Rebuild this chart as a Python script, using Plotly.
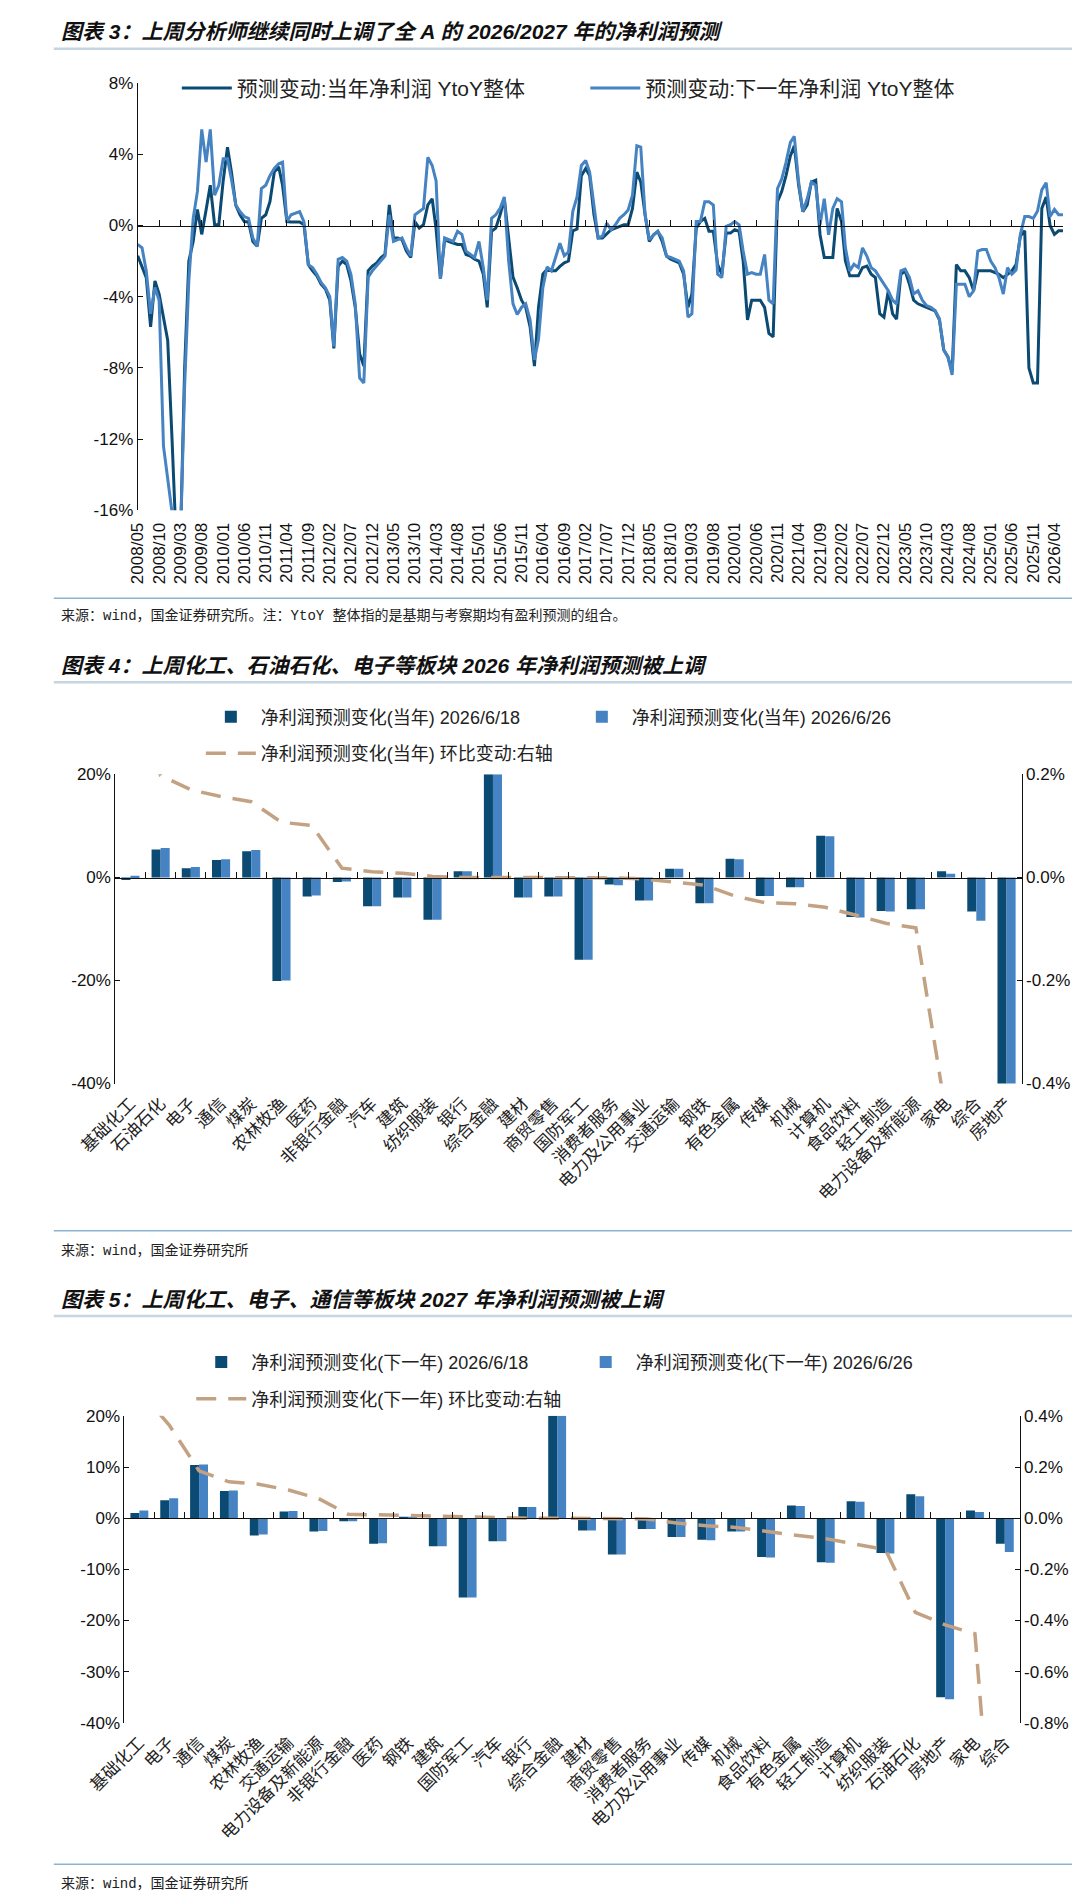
import pandas as pd
import plotly.graph_objects as go

W, H = 1080, 1900

# 图表3: 预测变动 YtoY整体(%), 月度 2008/05 - 2026/06
months = pd.date_range("2008-05-01", "2026-06-01", freq="MS")

cur_year = [
    -1.7, -2.37, -2.93, -5.7, -3.11, -3.85, -5.15, -6.44, -12.0, -18.0,
    -18.0, -8.0, -2.0, -0.9, 0.9, -0.5, 0.87, 2.26, 0.04, 0.04,
    2.5, 4.4, 3.0, 1.15, 0.6, 0.22, 0.2, -0.9, -1.17, 0.4,
    0.6, 1.33, 3.0, 3.3, 2.26, 0.22, 0.2, 0.2, 0.2, 0.04,
    -2.2, -2.55, -2.83, -3.3, -3.57, -4.2, -6.9, -2.3, -2.0, -2.2,
    -3.1, -4.6, -7.2, -7.9, -2.55, -2.28, -2.1, -1.8, -1.63, 1.15,
    -0.7, -0.7, -0.8, -1.44, -1.8, 0.2, -0.15, 0.04, 1.15, 1.5,
    -0.2, -3.0, -0.8, -0.9, -1.0, -1.07, -1.07, -1.63, -1.72, -1.9,
    -2.0, -2.74, -4.6, -0.33, -0.15, 0.6, 1.5, -0.9, -2.9, -3.5,
    -4.2, -4.6, -5.7, -7.9, -4.6, -2.74, -2.46, -2.55, -2.55, -2.3,
    -2.1, -2.0, -0.3, -0.2, 2.8, 3.2, 2.8, 0.6, -0.7, -0.7,
    -0.5, -0.24, -0.15, -0.05, 0.04, 0.04, 0.96, 3.0, 2.44, 0.6,
    -0.9, -0.52, -0.33, -0.9, -1.72, -1.9, -2.0, -2.1, -2.74, -4.6,
    -3.85, -0.15, 0.22, 0.4, -0.33, -0.33, -2.2, -2.74, -0.43, -0.43,
    -0.24, -0.33, -2.0, -5.3, -4.2, -4.2, -4.2, -4.6, -6.07, -6.26,
    1.33, 1.9, 2.8, 3.9, 4.48, 2.26, 0.78, 1.15, 2.44, 2.54,
    -0.52, -1.8, -1.8, -1.8, 0.96, 0.22, -2.0, -2.83, -2.83, -2.83,
    -2.37, -2.28, -2.74, -2.93, -4.96, -5.15, -3.67, -4.96, -5.26, -2.74,
    -2.55, -3.3, -4.2, -4.4, -4.5, -4.6, -4.7, -4.8, -5.3, -7.0,
    -7.37, -8.2, -2.2, -2.55, -2.55, -2.93, -3.67, -2.55, -2.55, -2.55,
    -2.55, -2.65, -2.74, -2.93, -2.74, -2.55, -2.2, -0.6, -0.3, -8.0,
    -8.85, -8.85, 0.96, 1.6, 0.0, -0.5, -0.3, -0.3,
]

next_year = [
    -1.07, -1.26, -2.55, -4.96, -3.48, -4.22, -12.4, -14.4, -16.2, -18.0,
    -18.0, -9.0, -3.1, 0.4, 1.9, 5.4, 3.56, 5.4, 1.7, 2.26,
    3.74, 3.74, 2.6, 1.15, 0.78, 0.5, 0.4, -0.7, -1.17, 2.07,
    2.26, 2.8, 3.2, 3.46, 3.55, 0.22, 0.6, 0.7, 0.78, 0.2,
    -2.2, -2.37, -2.74, -3.2, -3.5, -4.0, -6.8, -1.9, -1.8, -2.0,
    -2.74, -4.4, -8.57, -8.85, -2.9, -2.55, -2.28, -2.0, -1.72, 0.6,
    -0.9, -0.8, -0.7, -1.26, -1.72, 0.6, 0.78, 0.96, 3.83, 3.37,
    2.5, -3.0, -0.7, -0.8, -0.9, -0.33, -0.5, -1.44, -1.63, -1.8,
    -0.9, -2.37, -4.2, 0.4, 0.6, 0.96, 1.6, -2.0, -4.4, -5.0,
    -4.6, -4.4, -5.3, -7.55, -6.4, -3.5, -2.33, -2.55, -1.8, -1.0,
    -1.7, -1.5, 0.8, 1.6, 3.37, 3.65, 3.0, 1.15, -0.7, -0.6,
    0.13, -0.24, 0.04, 0.4, 0.6, 0.87, 1.7, 4.48, 4.4, 0.6,
    -0.8, -0.52, -0.33, -0.7, -1.72, -1.8, -1.9, -2.0, -2.55, -5.15,
    -4.96, 0.22, 0.22, 1.33, 1.33, 1.15, -2.74, -2.93, -0.05, 0.04,
    0.22, 0.04, -1.44, -2.74, -2.65, -2.74, -2.74, -1.63, -4.2, -4.4,
    2.07, 2.6, 3.55, 4.67, 5.0, 2.44, 0.78, 1.5, 2.44, 2.26,
    0.04, 1.5, -0.52, 0.96, 1.5, 1.33, -1.26, -2.55, -2.18, -2.37,
    -1.26, -1.72, -2.37, -2.55, -2.93, -3.3, -3.67, -4.2, -4.4, -2.55,
    -2.46, -2.93, -3.85, -3.67, -4.2, -4.5, -4.6, -4.78, -5.24, -7.0,
    -7.37, -8.4, -3.3, -3.3, -3.3, -4.0, -3.67, -1.44, -1.35, -1.35,
    -2.0, -2.37, -2.93, -3.85, -2.37, -2.74, -2.5, -0.5, 0.5, 0.5,
    0.4, 0.8, 2.0, 2.4, 0.5, 0.9, 0.6, 0.6,
]

# 图表4: 当年净利润预测变化(%) 与 环比变动(%)
sectors_2026 = [
    "基础化工", "石油石化", "电子", "通信", "煤炭", "农林牧渔", "医药", "非银行金融",
    "汽车", "建筑", "纺织服装", "银行", "综合金融", "建材", "商贸零售", "国防军工",
    "消费者服务", "电力及公用事业", "交通运输", "钢铁", "有色金属", "传媒", "机械",
    "计算机", "食品饮料", "轻工制造", "电力设备及新能源", "家电", "综合", "房地产",
]
chg_2026_0618 = [
    -0.5, 5.4, 1.8, 3.4, 5.1, -20.1, -3.7, -0.9, -5.6, -3.9, -8.2, 1.2, 20.0, -3.9, -3.7,
    -16.0, -1.4, -4.5, 1.7, -5.0, 3.6, -3.6, -1.9, 8.1, -7.7, -6.5, -6.2, 1.2, -6.6, -40.3,
]
chg_2026_0626 = [
    0.3, 5.7, 2.0, 3.5, 5.3, -20.0, -3.5, -0.8, -5.6, -3.9, -8.2, 1.2, 20.0, -3.9, -3.7,
    -16.0, -1.5, -4.5, 1.7, -5.0, 3.5, -3.6, -1.9, 8.0, -7.8, -6.6, -6.2, 0.7, -8.4, -40.3,
]
mom_2026 = [
    0.35, 0.198, 0.170, 0.157, 0.147, 0.107, 0.101, 0.018, 0.011, 0.008, 0.002, 0.0, 0.0,
    0.0, 0.0, 0.0, -0.001, -0.003, -0.009, -0.015, -0.036, -0.049, -0.051, -0.058, -0.073,
    -0.089, -0.098, -0.46, -0.6, -0.9,
]

# 图表5: 下一年净利润预测变化(%) 与 环比变动(%)
sectors_2027 = [
    "基础化工", "电子", "通信", "煤炭", "农林牧渔", "交通运输", "电力设备及新能源",
    "非银行金融", "医药", "钢铁", "建筑", "国防军工", "汽车", "银行", "综合金融", "建材",
    "商贸零售", "消费者服务", "电力及公用事业", "传媒", "机械", "食品饮料", "有色金属",
    "轻工制造", "计算机", "纺织服装", "石油石化", "房地产", "家电", "综合",
]
chg_2027_0618 = [
    1.0, 3.5, 10.4, 5.3, -3.4, 1.3, -2.6, -0.6, -5.0, 0.3, -5.5, -15.5, -4.5, 2.2, 20.0,
    -2.4, -7.1, -2.1, -3.7, -4.2, -2.6, -7.6, 2.5, -8.6, 3.3, -6.8, 4.7, -35.0, 1.5, -5.0,
]
chg_2027_0626 = [
    1.5, 3.9, 10.5, 5.4, -3.2, 1.4, -2.5, -0.6, -4.9, 0.3, -5.5, -15.5, -4.5, 2.2, 20.0,
    -2.4, -7.1, -2.1, -3.7, -4.3, -2.6, -7.7, 2.4, -8.7, 3.2, -6.9, 4.3, -35.4, 1.2, -6.6,
]
mom_2027 = [
    0.5, 0.364, 0.185, 0.142, 0.133, 0.110, 0.077, 0.015, 0.013, 0.010, 0.008, 0.005, 0.003,
    0.0, 0.0, 0.0, 0.0, -0.003, -0.019, -0.030, -0.036, -0.052, -0.067, -0.080, -0.103,
    -0.123, -0.368, -0.417, -0.452, -1.9,
]

# 坐标刻度
ticks_c3 = [-16, -12, -8, -4, 0, 4, 8]
ticks_c4_left = [-40, -20, 0, 20]
ticks_c4_right = [-0.4, -0.2, 0.0, 0.2]
ticks_c5_left = [-40, -30, -20, -10, 0, 10, 20]
ticks_c5_right = [-0.8, -0.6, -0.4, -0.2, 0.0, 0.2, 0.4]

DARK = "#0b4a73"
LIGHT = "#4683c2"
TAN = "#c3a283"
FONT = "Liberation Sans, Noto Sans CJK SC"
CJK = "Noto Sans CJK SC"


def px(x):
    return x / W


def py(y):
    return 1 - y / H


fig = go.Figure()

# ---- 图表3 ----
fig.add_trace(go.Scatter(
    x=months, y=cur_year, name="预测变动:当年净利润 YtoY整体", mode="lines",
    line=dict(color=DARK, width=3), xaxis="x", yaxis="y", legend="legend"))
fig.add_trace(go.Scatter(
    x=months, y=next_year, name="预测变动:下一年净利润 YtoY整体", mode="lines",
    line=dict(color=LIGHT, width=3), xaxis="x2", yaxis="y", legend="legend2"))

# ---- 图表4 ----
fig.add_trace(go.Bar(
    x=sectors_2026, y=chg_2026_0618, name="净利润预测变化(当年) 2026/6/18",
    marker=dict(color=DARK, line_width=0), xaxis="x3", yaxis="y2", legend="legend3"))
fig.add_trace(go.Bar(
    x=sectors_2026, y=chg_2026_0626, name="净利润预测变化(当年) 2026/6/26",
    marker=dict(color=LIGHT, line_width=0), xaxis="x3", yaxis="y2", legend="legend4"))
fig.add_trace(go.Scatter(
    x=sectors_2026, y=mom_2026, name="净利润预测变化(当年) 环比变动:右轴", mode="lines",
    line=dict(color=TAN, width=3.5, dash="20px,12px"), xaxis="x4", yaxis="y3",
    legend="legend5"))

# ---- 图表5 ----
fig.add_trace(go.Bar(
    x=sectors_2027, y=chg_2027_0618, name="净利润预测变化(下一年) 2026/6/18",
    marker=dict(color=DARK, line_width=0), xaxis="x5", yaxis="y4", legend="legend6"))
fig.add_trace(go.Bar(
    x=sectors_2027, y=chg_2027_0626, name="净利润预测变化(下一年) 2026/6/26",
    marker=dict(color=LIGHT, line_width=0), xaxis="x5", yaxis="y4", legend="legend7"))
fig.add_trace(go.Scatter(
    x=sectors_2027, y=mom_2027, name="净利润预测变化(下一年) 环比变动:右轴", mode="lines",
    line=dict(color=TAN, width=3.5, dash="20px,12px"), xaxis="x6", yaxis="y5",
    legend="legend8"))

tickfont = dict(size=17, family=FONT, color="#111")
base_y = dict(showgrid=False, zeroline=False, showline=True, linecolor="#111",
              linewidth=1, ticks="inside", ticklen=5, tickcolor="#111", tickfont=tickfont)
zero_x = dict(showgrid=False, zeroline=False, showline=True, linecolor="#111",
              linewidth=1, ticks="inside", ticklen=6, tickcolor="#111",
              showticklabels=False, anchor="free")
cat_x = dict(type="category", range=[-0.5, 29.5], showgrid=False, zeroline=False,
             showline=False, ticks="", tickangle=-45, ticklabelstandoff=6,
             tickfont=dict(size=17, family=CJK, color="#222"))


def pct(vals, nd=0):
    return [f"{v:.{nd}f}%" for v in vals]


fig.update_layout(
    width=W, height=H, margin=dict(l=0, r=0, t=0, b=0),
    paper_bgcolor="white", plot_bgcolor="white",
    barmode="group", bargap=0.4, bargroupgap=0,
    font=dict(family=FONT, color="#111"),
    showlegend=True,
    # 图表3
    xaxis=dict(domain=[px(92.3), px(1055)], anchor="y", type="date",
               range=["2008-05-01", "2026-06-01"], tick0="2008-05-01", dtick="M5",
               tickformat="%Y/%m", tickangle=-90, showline=False, ticks="",
               showgrid=False, zeroline=False, ticklabelstandoff=8, tickfont=tickfont),
    xaxis2=dict(zero_x, overlaying="x", position=py(210.7), type="date",
                range=["2008-05-01", "2026-06-01"], tick0="2008-05-01", dtick="M5"),
    yaxis=dict(base_y, domain=[py(498.3), py(66.7)], anchor="x", range=[-16, 8],
               tickvals=ticks_c3, ticktext=pct(ticks_c3)),
    # 图表4
    xaxis3=dict(cat_x, domain=[px(69), px(1012)], anchor="y2"),
    xaxis4=dict(zero_x, overlaying="x3", position=py(869.3), type="category",
                range=[-0.5, 29.5], tickson="boundaries"),
    yaxis2=dict(base_y, domain=[py(1077.3), py(765)], anchor="x3", range=[-40, 20],
                tickvals=ticks_c4_left, ticktext=pct(ticks_c4_left)),
    yaxis3=dict(base_y, overlaying="y2", side="right", anchor="x3", range=[-0.4, 0.2],
                tickvals=ticks_c4_right, ticktext=pct(ticks_c4_right, 1)),
    # 图表5
    xaxis5=dict(cat_x, domain=[px(78.5), px(1010)], anchor="y4"),
    xaxis6=dict(zero_x, overlaying="x5", position=py(1516.3), type="category",
                range=[-0.5, 29.5], tickson="boundaries"),
    yaxis4=dict(base_y, domain=[py(1723), py(1413)], anchor="x5", range=[-40, 20],
                tickvals=ticks_c5_left, ticktext=pct(ticks_c5_left)),
    yaxis5=dict(base_y, overlaying="y4", side="right", anchor="x5", range=[-0.8, 0.4],
                tickvals=ticks_c5_right, ticktext=pct(ticks_c5_right, 1)),
)

# 图例
leg_common = dict(xanchor="left", yanchor="middle", orientation="h",
                  bgcolor="rgba(0,0,0,0)", itemwidth=50)
legend_pos = {
    "legend": (133, 72, 21), "legend2": (558, 72, 21),
    "legend3": (158, 707, 18), "legend4": (544, 707, 18), "legend5": (158, 744, 18),
    "legend6": (148, 1359, 18), "legend7": (548, 1359, 18), "legend8": (148, 1396, 18),
}
for key, (lx, ly, fs) in legend_pos.items():
    fig.update_layout({key: dict(leg_common, x=px(lx), y=py(ly),
                                 font=dict(size=fs, family=FONT, color="#222"))})

# 标题 / 来源 / 分隔线
titles = [
    (15, "图表 3：上周分析师继续同时上调了全 A 的 2026/2027 年的净利润预测"),
    (655, "图表 4：上周化工、石油石化、电子等板块 2026 年净利润预测被上调"),
    (1295, "图表 5：上周化工、电子、通信等板块 2027 年净利润预测被上调"),
]
sources = [
    (605, "来源：wind，国金证券研究所。注：YtoY 整体指的是基期与考察期均有盈利预测的组合。"),
    (1246, "来源：wind，国金证券研究所"),
    (1886, "来源：wind，国金证券研究所"),
]
for ty, txt in titles:
    fig.add_annotation(x=px(10), y=py(ty), xref="paper", yref="paper", xanchor="left",
                       yanchor="middle", showarrow=False, text=f"<b><i>{txt}</i></b>",
                       font=dict(size=21, family=FONT, color="#111"))
for sy, txt in sources:
    fig.add_annotation(x=px(10), y=py(sy), xref="paper", yref="paper", xanchor="left",
                       yanchor="middle", showarrow=False, text=txt,
                       font=dict(size=14, family="Liberation Mono, Noto Sans CJK SC",
                                 color="#222"))
for ly in [32, 672, 1312]:
    fig.add_shape(type="line", xref="paper", yref="paper", x0=px(5), x1=px(1075),
                  y0=py(ly), y1=py(ly), line=dict(color="#c6d5e2", width=2.5))
for ly in [587, 1226, 1866]:
    fig.add_shape(type="line", xref="paper", yref="paper", x0=px(5), x1=px(1075),
                  y0=py(ly), y1=py(ly), line=dict(color="#8db2cf", width=1.5))

fig.write_html("out.html")
